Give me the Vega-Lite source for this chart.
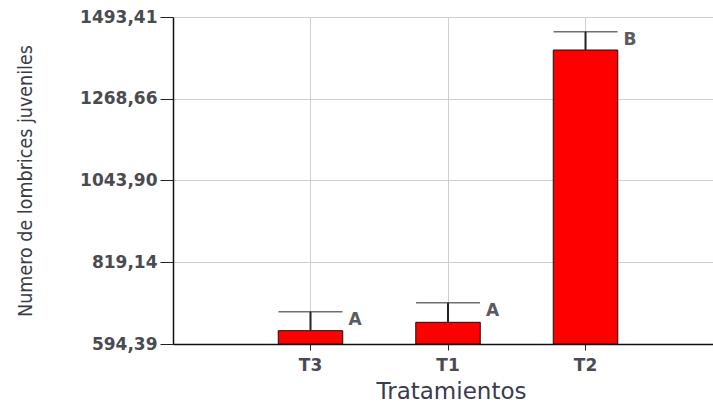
{
  "$schema": "https://vega.github.io/schema/vega-lite/v6.json",
  "width": 540,
  "height": 327,
  "autosize": {"type": "none"},
  "padding": {"left": 173, "top": 17, "right": 0, "bottom": 60},
  "background": "white",
  "config": {"view": {"stroke": null}},
  "data": {"values": [
    {"trat": "T3", "value": 631, "upper": 683, "letra": "A"},
    {"trat": "T1", "value": 654, "upper": 708, "letra": "A"},
    {"trat": "T2", "value": 1402.6, "upper": 1453, "letra": "B"}
  ]},
  "encoding": {
    "x": {"field": "trat", "type": "nominal", "sort": ["T3", "T1", "T2"],
      "scale": {"paddingInner": 0.531, "paddingOuter": 0.729, "align": 0.525},
      "axis": {"title": "Tratamientos", "labelAngle": 0, "labelFont": "DejaVu Sans", "labelFontSize": 17, "labelFontWeight": "bold", "labelColor": "#4a4a52",
        "titleFont": "DejaVu Sans", "titleFontSize": 23, "titleFontWeight": "normal", "titleColor": "#3a3a50", "titleX": 278, "titleAlign": "center",
        "domainColor": "#111", "domainWidth": 1.5, "tickColor": "#222", "tickSize": 6, "labelPadding": 7, "titlePadding": 7,
        "grid": true, "gridColor": "#cfcfcf", "gridWidth": 1}}
  },
  "layer": [
    {"mark": {"type": "bar", "fill": "#ff0000", "stroke": "#111", "strokeWidth": 1},
     "encoding": {
       "y": {"field": "value", "type": "quantitative",
         "scale": {"domain": [594.39, 1493.41], "zero": false, "nice": false},
         "axis": {"title": "Numero de lombrices juveniles", "values": [594.39, 819.14, 1043.90, 1268.66, 1493.41],
           "labelExpr": "replace(format(datum.value, '.2f'), '.', ',')",
           "labelFont": "DejaVu Sans", "labelFontSize": 17, "labelFontWeight": "bold", "labelColor": "#4a4a52", "labelPadding": 3,
           "titleFont": "Liberation Sans Narrow, DejaVu Sans Condensed, sans-serif", "titleFontSize": 19.5, "titleFontWeight": "normal", "titleColor": "#3a3a44", "titlePadding": 44,
           "domainColor": "#111", "domainWidth": 1.5, "tickColor": "#222", "tickSize": 13,
           "grid": true, "gridColor": "#cfcfcf", "gridWidth": 1}},
       "y2": {"datum": 594.39}
     }},
    {"mark": {"type": "rule", "color": "#222", "strokeWidth": 2},
     "encoding": {"y": {"field": "value", "type": "quantitative"}, "y2": {"field": "upper"}}},
    {"mark": {"type": "tick", "color": "#333", "thickness": 1.5, "size": 64, "orient": "horizontal"},
     "encoding": {"y": {"field": "upper", "type": "quantitative"}}},
    {"mark": {"type": "text", "align": "left", "baseline": "top", "dx": 38, "dy": 0, "font": "DejaVu Sans", "fontSize": 17, "fontWeight": "bold", "color": "#5a5a60"},
     "encoding": {"y": {"field": "upper", "type": "quantitative"}, "text": {"field": "letra"}}}
  ]
}
